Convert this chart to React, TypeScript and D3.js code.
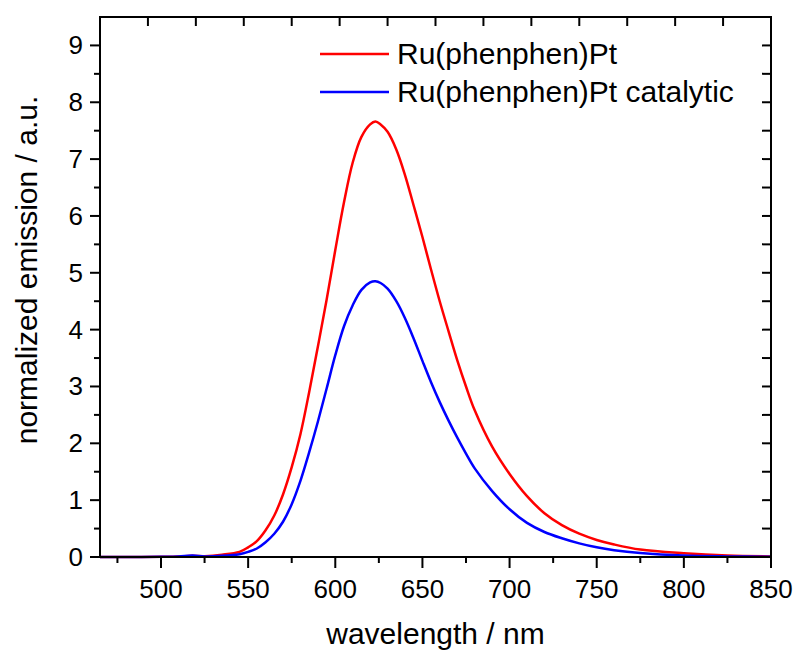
import React from "react";
import * as d3 from "d3";

const wavelengths = [465, 480, 500, 510, 518, 525, 535, 545, 550, 555, 560, 565, 570, 575, 580, 585, 590, 595, 600, 605, 610, 615, 620, 623, 626, 630, 635, 640, 645, 650, 655, 660, 665, 670, 675, 680, 690, 700, 710, 720, 730, 740, 750, 760, 775, 800, 825, 850];
const redValues = [0, 0, 0.005, 0.01, 0.02, 0.015, 0.04, 0.09, 0.17, 0.28, 0.47, 0.73, 1.1, 1.58, 2.16, 2.9, 3.7, 4.52, 5.4, 6.24, 6.94, 7.39, 7.61, 7.66, 7.61, 7.48, 7.17, 6.72, 6.18, 5.63, 5.05, 4.49, 3.97, 3.46, 3.0, 2.58, 1.94, 1.46, 1.07, 0.77, 0.56, 0.41, 0.3, 0.22, 0.13, 0.065, 0.025, 0.01];
const blueValues = [0, 0, 0.005, 0.01, 0.025, 0.01, 0.02, 0.05, 0.09, 0.15, 0.26, 0.41, 0.62, 0.93, 1.34, 1.84, 2.38, 2.96, 3.55, 4.06, 4.43, 4.7, 4.83, 4.85, 4.82, 4.72, 4.5, 4.2, 3.84, 3.45, 3.07, 2.72, 2.4, 2.1, 1.82, 1.56, 1.16, 0.84, 0.6, 0.44, 0.33, 0.24, 0.17, 0.12, 0.07, 0.025, 0.01, 0.005];

const seriesNames = ["Ru(phenphen)Pt", "Ru(phenphen)Pt catalytic"];
const seriesColors = ["#ff0000", "#0000ff"];
const xMajorTicks = [500, 550, 600, 650, 700, 750, 800, 850];
const xMinorTicks = [475, 525, 575, 625, 675, 725, 775, 825];
const yMajorTicks = [0, 1, 2, 3, 4, 5, 6, 7, 8, 9];
const yMinorTicks = [0.5, 1.5, 2.5, 3.5, 4.5, 5.5, 6.5, 7.5, 8.5];
const xTitle = "wavelength / nm";
const yTitle = "normalized emission / a.u.";

const W = 797, H = 651;
const L = 100, R = 771, T = 17, B = 557;
const FONT = "'Liberation Sans', Arial, sans-serif";

export default function App() {
  const x = d3.scaleLinear().domain([465, 850]).range([L, R]);
  const y = d3.scaleLinear().domain([0, 9.5]).range([B, T]);
  const topScale = d3.scaleLinear().domain([0, 14]).range([L, R]);
  const rightTicks = d3.range(1, 19).map((i) => i * 0.5);

  const line = d3
    .line<number>()
    .x((_, i) => x(wavelengths[i]))
    .y((d) => y(d))
    .curve(d3.curveCatmullRom.alpha(0.5));

  const series = [redValues, blueValues];

  return (
    <svg width={W} height={H} style={{ position: "absolute", left: 0, top: 0, background: "#fff" }} fontFamily={FONT}>
      <rect x={0} y={0} width={W} height={H} fill="#fff" />
      {series.map((s, i) => (
        <path key={i} d={line(s) || ""} fill="none" stroke={seriesColors[i]} strokeWidth={2.5} strokeLinejoin="round" />
      ))}
      <rect x={L} y={T} width={R - L} height={B - T} fill="none" stroke="#000" strokeWidth={2} />
      {xMajorTicks.map((t) => (
        <g key={"xm" + t}>
          <line x1={x(t)} x2={x(t)} y1={B} y2={B + 11} stroke="#000" strokeWidth={2} />
          <text x={x(t)} y={598} textAnchor="middle" fontSize={26}>{t}</text>
        </g>
      ))}
      {xMinorTicks.map((t) => (
        <line key={"xn" + t} x1={x(t)} x2={x(t)} y1={B} y2={B + 6} stroke="#000" strokeWidth={2} />
      ))}
      {yMajorTicks.map((t) => (
        <g key={"ym" + t}>
          <line x1={L - 10} x2={L} y1={y(t)} y2={y(t)} stroke="#000" strokeWidth={2} />
          <text x={83} y={y(t) + 9} textAnchor="end" fontSize={26}>{t}</text>
        </g>
      ))}
      {yMinorTicks.map((t) => (
        <line key={"yn" + t} x1={L - 6} x2={L} y1={y(t)} y2={y(t)} stroke="#000" strokeWidth={2} />
      ))}
      {d3.range(1, 14).map((i) => (
        <line key={"tt" + i} x1={topScale(i)} x2={topScale(i)} y1={T} y2={T + 9} stroke="#000" strokeWidth={2} />
      ))}
      {rightTicks.map((t) => (
        <line key={"rt" + t} x1={R - 9} x2={R} y1={y(t)} y2={y(t)} stroke="#000" strokeWidth={2} />
      ))}
      <text x={(L + R) / 2} y={644} textAnchor="middle" fontSize={30}>{xTitle}</text>
      <text transform={`translate(37, 270) rotate(-90)`} textAnchor="middle" fontSize={30}>{yTitle}</text>
      {seriesNames.map((name, i) => (
        <g key={name}>
          <line x1={320} x2={389} y1={54 + i * 38} y2={54 + i * 38} stroke={seriesColors[i]} strokeWidth={2.5} />
          <text x={397} y={54 + i * 38 + 10} fontSize={30}>{name}</text>
        </g>
      ))}
    </svg>
  );
}
